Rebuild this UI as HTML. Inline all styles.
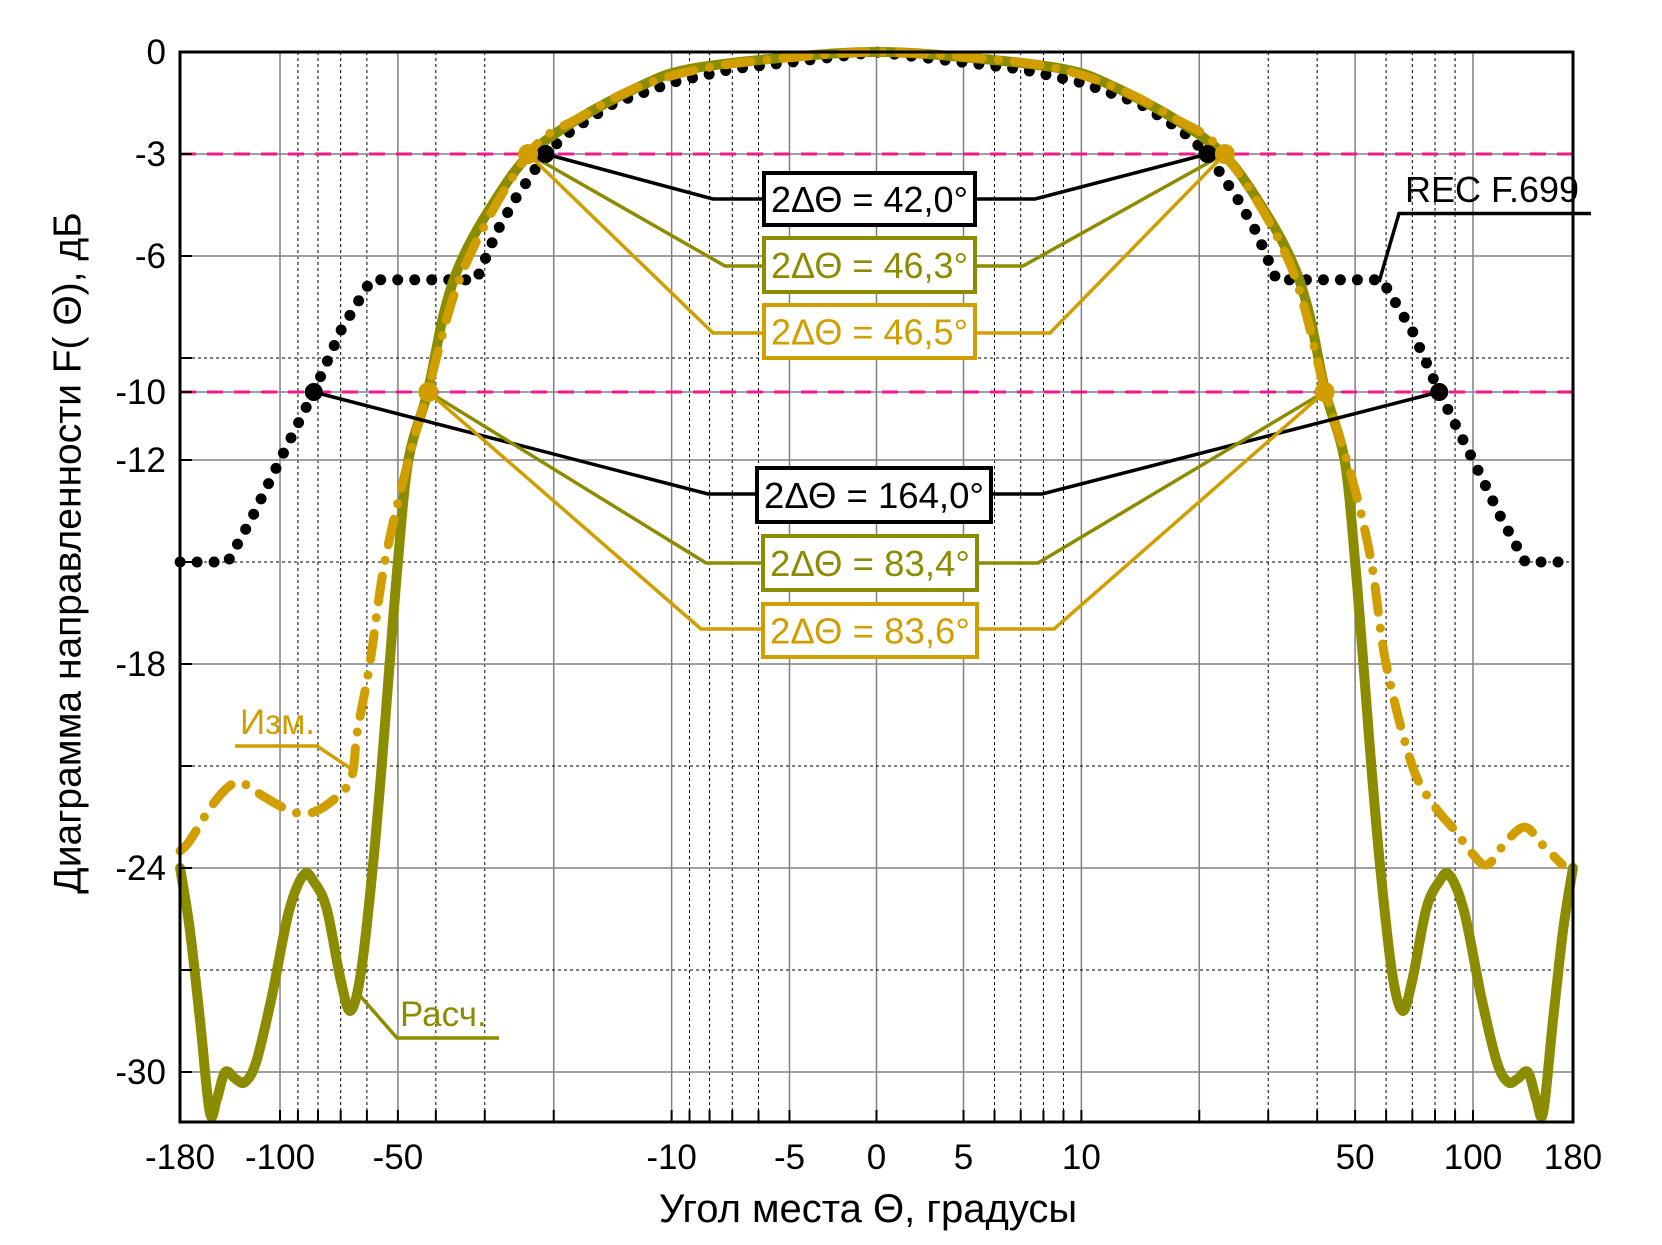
<!DOCTYPE html>
<html><head><meta charset="utf-8"><style>
html,body{margin:0;padding:0;background:#fff;}
svg{display:block;font-family:"Liberation Sans",sans-serif;}
</style></head><body>
<svg id="chart" width="1662" height="1245" viewBox="0 0 1662 1245" xmlns="http://www.w3.org/2000/svg">
<g id="grid"></g>
<g id="series"></g>
<g id="annot"></g>
<g id="axes"></g>
<text x="70" y="553" font-size="39" text-anchor="middle" transform="rotate(-90 70 553)" dominant-baseline="middle">Диаграмма направленности F( Θ), дБ</text>
<text x="868" y="1222" font-size="40" text-anchor="middle">Угол места  Θ, градусы</text>
</svg>
<script>
// ---- data ----
const calcTheta = [-180,-170,-160,-151,-145,-138,-130,-123,-115,-105,-95,-87,-82,-76,-70,-66,-62,-58,-55,-52.5,-50,-47,-42,-38,-34,-28,-23,-17.5,-12,-9,-5,0,5,9,12,17.5,23,28,34,38,42,47,50,52.5,55,58,62,66,70,76,82,87,95,105,115,123,130,138,145,151,160,170,180];
const calcDb    = [-24,-25.8,-28.5,-31.2,-30.8,-30.0,-30.2,-30.3,-29.7,-27.8,-25.3,-24.2,-24.4,-25.2,-27.3,-28.2,-27,-24,-21,-18,-15,-12,-10,-7.6,-6,-4.3,-3,-2,-1,-0.5,-0.15,0,-0.15,-0.5,-1,-2,-3,-4.3,-6,-7.6,-10,-12,-15,-18,-21,-24,-27,-28.2,-27.3,-25.2,-24.4,-24.2,-25.3,-27.8,-29.7,-30.3,-30.2,-30.0,-30.8,-31.2,-28.5,-25.8,-24];
const measTheta = [-180,-170,-150,-135,-125,-110,-95,-85,-75,-66,-63.5,-59,-54,-47,-42,-34,-23.2,-17,-12,-8,-4,0,4,8,12,17,23.2,34,42,49,55,60,70,80,90,100,109,122,136,150,169];
const measDb    = [-23.5,-23.2,-22.2,-21.6,-21.5,-21.9,-22.3,-22.4,-22.1,-21.4,-20,-18,-15,-12,-10,-6.4,-3,-1.9,-1.0,-0.45,-0.12,0,-0.1,-0.4,-1.0,-1.9,-3,-6.2,-10,-12.5,-15,-18,-21,-22.2,-22.9,-23.6,-23.9,-23.2,-22.8,-23.3,-23.9];
const recTheta = [-180,-136,-118,-100,-82,-70,-58.5,-31.5,-28,-25,-21,-18,-14,-10,-7,0,7,10,14,18,21,25,28,31.5,58.5,70,82,100,118,136,180];
const recDb    = [-15,-15,-13.7,-12,-10,-8.2,-6.7,-6.7,-5.3,-4.3,-3,-2.3,-1.5,-0.9,-0.5,0,-0.5,-0.9,-1.5,-2.3,-3,-4.3,-5.3,-6.7,-6.7,-8.2,-10,-12,-13.7,-15,-15];
const xTickVals = [-180,-100,-50,-10,-5,0,5,10,50,100,180];
const xTickLabels = ["-180","-100","-50","-10","-5","0","5","10","50","100","180"];
const yTickVals = [0,-3,-6,-10,-12,-18,-24,-30];
const yTickLabels = ["0","-3","-6","-10","-12","-18","-24","-30"];
const yMinorVals = [-9,-15,-21,-27];
const xSolidGrid = [-100,-50,-20,-10,-5,0,5,10,20,50,100];
const xDottedGrid = [-90,-80,-70,-60,-40,-30,-9,-8,-7,-6,6,7,8,9,30,40,60,70,80,90];
const levels = [-3,-10];
const widthLabels = ["2ΔΘ = 42,0°","2ΔΘ = 46,3°","2ΔΘ = 46,5°","2ΔΘ = 164,0°","2ΔΘ = 83,4°","2ΔΘ = 83,6°"];
const halfWidths = [21,23.15,23.25,82,41.7,41.8];

// ---- scales ----
const L=180,R=1573,T=52,B=1122,CX=876.5;
function X(t){const a=Math.abs(t);let u=a<=5?a*87/5:87+391.6*Math.log10(a/5);return CX+(t<0?-u:u);}
function Y(d){return T+(-d)*34.0;}
const NS="http://www.w3.org/2000/svg";
function mk(tag,attrs,parent){const e=document.createElementNS(NS,tag);for(const k in attrs)e.setAttribute(k,attrs[k]);parent.appendChild(e);return e;}
const grid=document.getElementById('grid'),series=document.getElementById('series'),annot=document.getElementById('annot'),axes=document.getElementById('axes');

xSolidGrid.forEach(v=>{const e=mk('line',{x1:X(v),x2:X(v),y1:T,y2:B,stroke:'#808080','stroke-width':1.5},grid);

});
xDottedGrid.forEach(v=>{const e=mk('line',{x1:X(v),x2:X(v),y1:T,y2:B,stroke:'#000','stroke-width':1,'stroke-dasharray':'3 3'},grid);

});
yTickVals.forEach(v=>{const e=mk('line',{x1:L,x2:R,y1:Y(v),y2:Y(v),stroke:'#808080','stroke-width':1.5},grid);

});
yMinorVals.forEach(v=>{const e=mk('line',{x1:L,x2:R,y1:Y(v),y2:Y(v),stroke:'#000','stroke-width':1,'stroke-dasharray':'3 3'},grid);

});
levels.forEach(v=>{const e=mk('line',{x1:L,x2:R,y1:Y(v),y2:Y(v),stroke:'#ee1b8c','stroke-width':3,'stroke-dasharray':'16 11'},grid);

});

function smooth(th,db){
  const p=th.map((t,i)=>[X(t),Y(db[i])]);
  let d='M'+p[0][0].toFixed(1)+','+p[0][1].toFixed(1);
  for(let i=0;i<p.length-1;i++){
    const p0=p[Math.max(0,i-1)],p1=p[i],p2=p[i+1],p3=p[Math.min(p.length-1,i+2)];
    const c1x=p1[0]+(p2[0]-p0[0])/6,c1y=p1[1]+(p2[1]-p0[1])/6;
    const c2x=p2[0]-(p3[0]-p1[0])/6,c2y=p2[1]-(p3[1]-p1[1])/6;
    d+=' C'+c1x.toFixed(1)+','+c1y.toFixed(1)+' '+c2x.toFixed(1)+','+c2y.toFixed(1)+' '+p2[0].toFixed(1)+','+p2[1].toFixed(1);
  }
  return d;
}
function pts(th,db){return th.map((t,i)=>X(t).toFixed(1)+','+Y(db[i]).toFixed(1)).join(' ');}
let s=mk('polyline',{points:pts(recTheta,recDb),fill:'none',stroke:'#000','stroke-width':11,'stroke-linecap':'round','stroke-dasharray':'0 17'},series);


s=mk('path',{d:smooth(calcTheta,calcDb),fill:'none',stroke:'#8c8c00','stroke-width':10,'stroke-linejoin':'round','stroke-linecap':'round'},series);


s=mk('path',{d:smooth(measTheta,measDb),fill:'none',stroke:'#d19e00','stroke-width':9,'stroke-linejoin':'round','stroke-linecap':'round','stroke-dasharray':'26 16 0 16'},series);



const colors=['#000','#8c8c00','#d19e00','#000','#8c8c00','#d19e00'];
const boxes=[[764,173,211,52,199,713,1035],[764,238,211,54,266,725,1023],[764,305,211,53,333,713,1050],[757,468,234,54,494,708,1042],[763,536,214,54,563,706,1038],[763,604,214,53,629,701,1054]];
boxes.forEach((b,i)=>{
  const lv=i<3?-3:-10, hw=halfWidths[i], c=colors[i];
  const l=mk('polyline',{points:`${X(-hw)},${Y(lv)} ${b[5]},${b[4]} ${b[0]},${b[4]}`,fill:'none',stroke:c,'stroke-width':3.5},annot);
  
  
  const r=mk('polyline',{points:`${b[0]+b[2]},${b[4]} ${b[6]},${b[4]} ${X(hw)},${Y(lv)}`,fill:'none',stroke:c,'stroke-width':3.5},annot);
  
  
});
boxes.forEach((b,i)=>{
  const lv=i<3?-3:-10, hw=halfWidths[i], c=colors[i];
  [-hw,hw].forEach(t=>{const m=mk('circle',{cx:X(t),cy:Y(lv),r:i%3==2?10:9,fill:c},annot);
  
  });
  const rc=mk('rect',{x:b[0],y:b[1],width:b[2],height:b[3],fill:'#fff',stroke:c,'stroke-width':4},annot);
  
  
  const tx=mk('text',{x:b[0]+b[2]/2,y:b[1]+b[3]/2+13,'font-size':36,'text-anchor':'middle',fill:c,textLength:b[2]-14,lengthAdjust:'spacingAndGlyphs'},annot);
  tx.textContent=widthLabels[i];
  
  
});

let e=mk('polyline',{points:'1379,282 1399,213.5 1591,213.5',fill:'none',stroke:'#000','stroke-width':3.5},annot);


e=mk('text',{x:1405,y:202,'font-size':36},annot);e.textContent='REC F.699';


e=mk('polyline',{points:'235,746 317,746 350,768',fill:'none',stroke:'#d19e00','stroke-width':3.5},annot);


e=mk('text',{x:240,y:734,'font-size':35,fill:'#d19e00'},annot);e.textContent='Изм.';


e=mk('polyline',{points:'355,990 397,1038 499,1038',fill:'none',stroke:'#8c8c00','stroke-width':3.5},annot);


e=mk('text',{x:400,y:1026,'font-size':35,fill:'#8c8c00'},annot);e.textContent='Расч.';



e=mk('rect',{x:L,y:T,width:R-L,height:B-T,fill:'none',stroke:'#000','stroke-width':3},axes);


xTickVals.concat(xDottedGrid,[-20,20]).forEach(v=>{const t=mk('line',{x1:X(v),x2:X(v),y1:B,y2:B-12,stroke:'#000','stroke-width':2},axes);

});
xTickVals.forEach((v,i)=>{const t=mk('text',{x:X(v),y:1169,'font-size':35,'text-anchor':'middle'},axes);t.textContent=xTickLabels[i];

});
yTickVals.concat(yMinorVals).forEach(v=>{const t=mk('line',{x1:L,x2:L+12,y1:Y(v),y2:Y(v),stroke:'#000','stroke-width':2},axes);

});
yTickVals.forEach((v,i)=>{const t=mk('text',{x:166,y:Y(v)+12,'font-size':35,'text-anchor':'end'},axes);t.textContent=yTickLabels[i];

});
</script>
</body></html>
